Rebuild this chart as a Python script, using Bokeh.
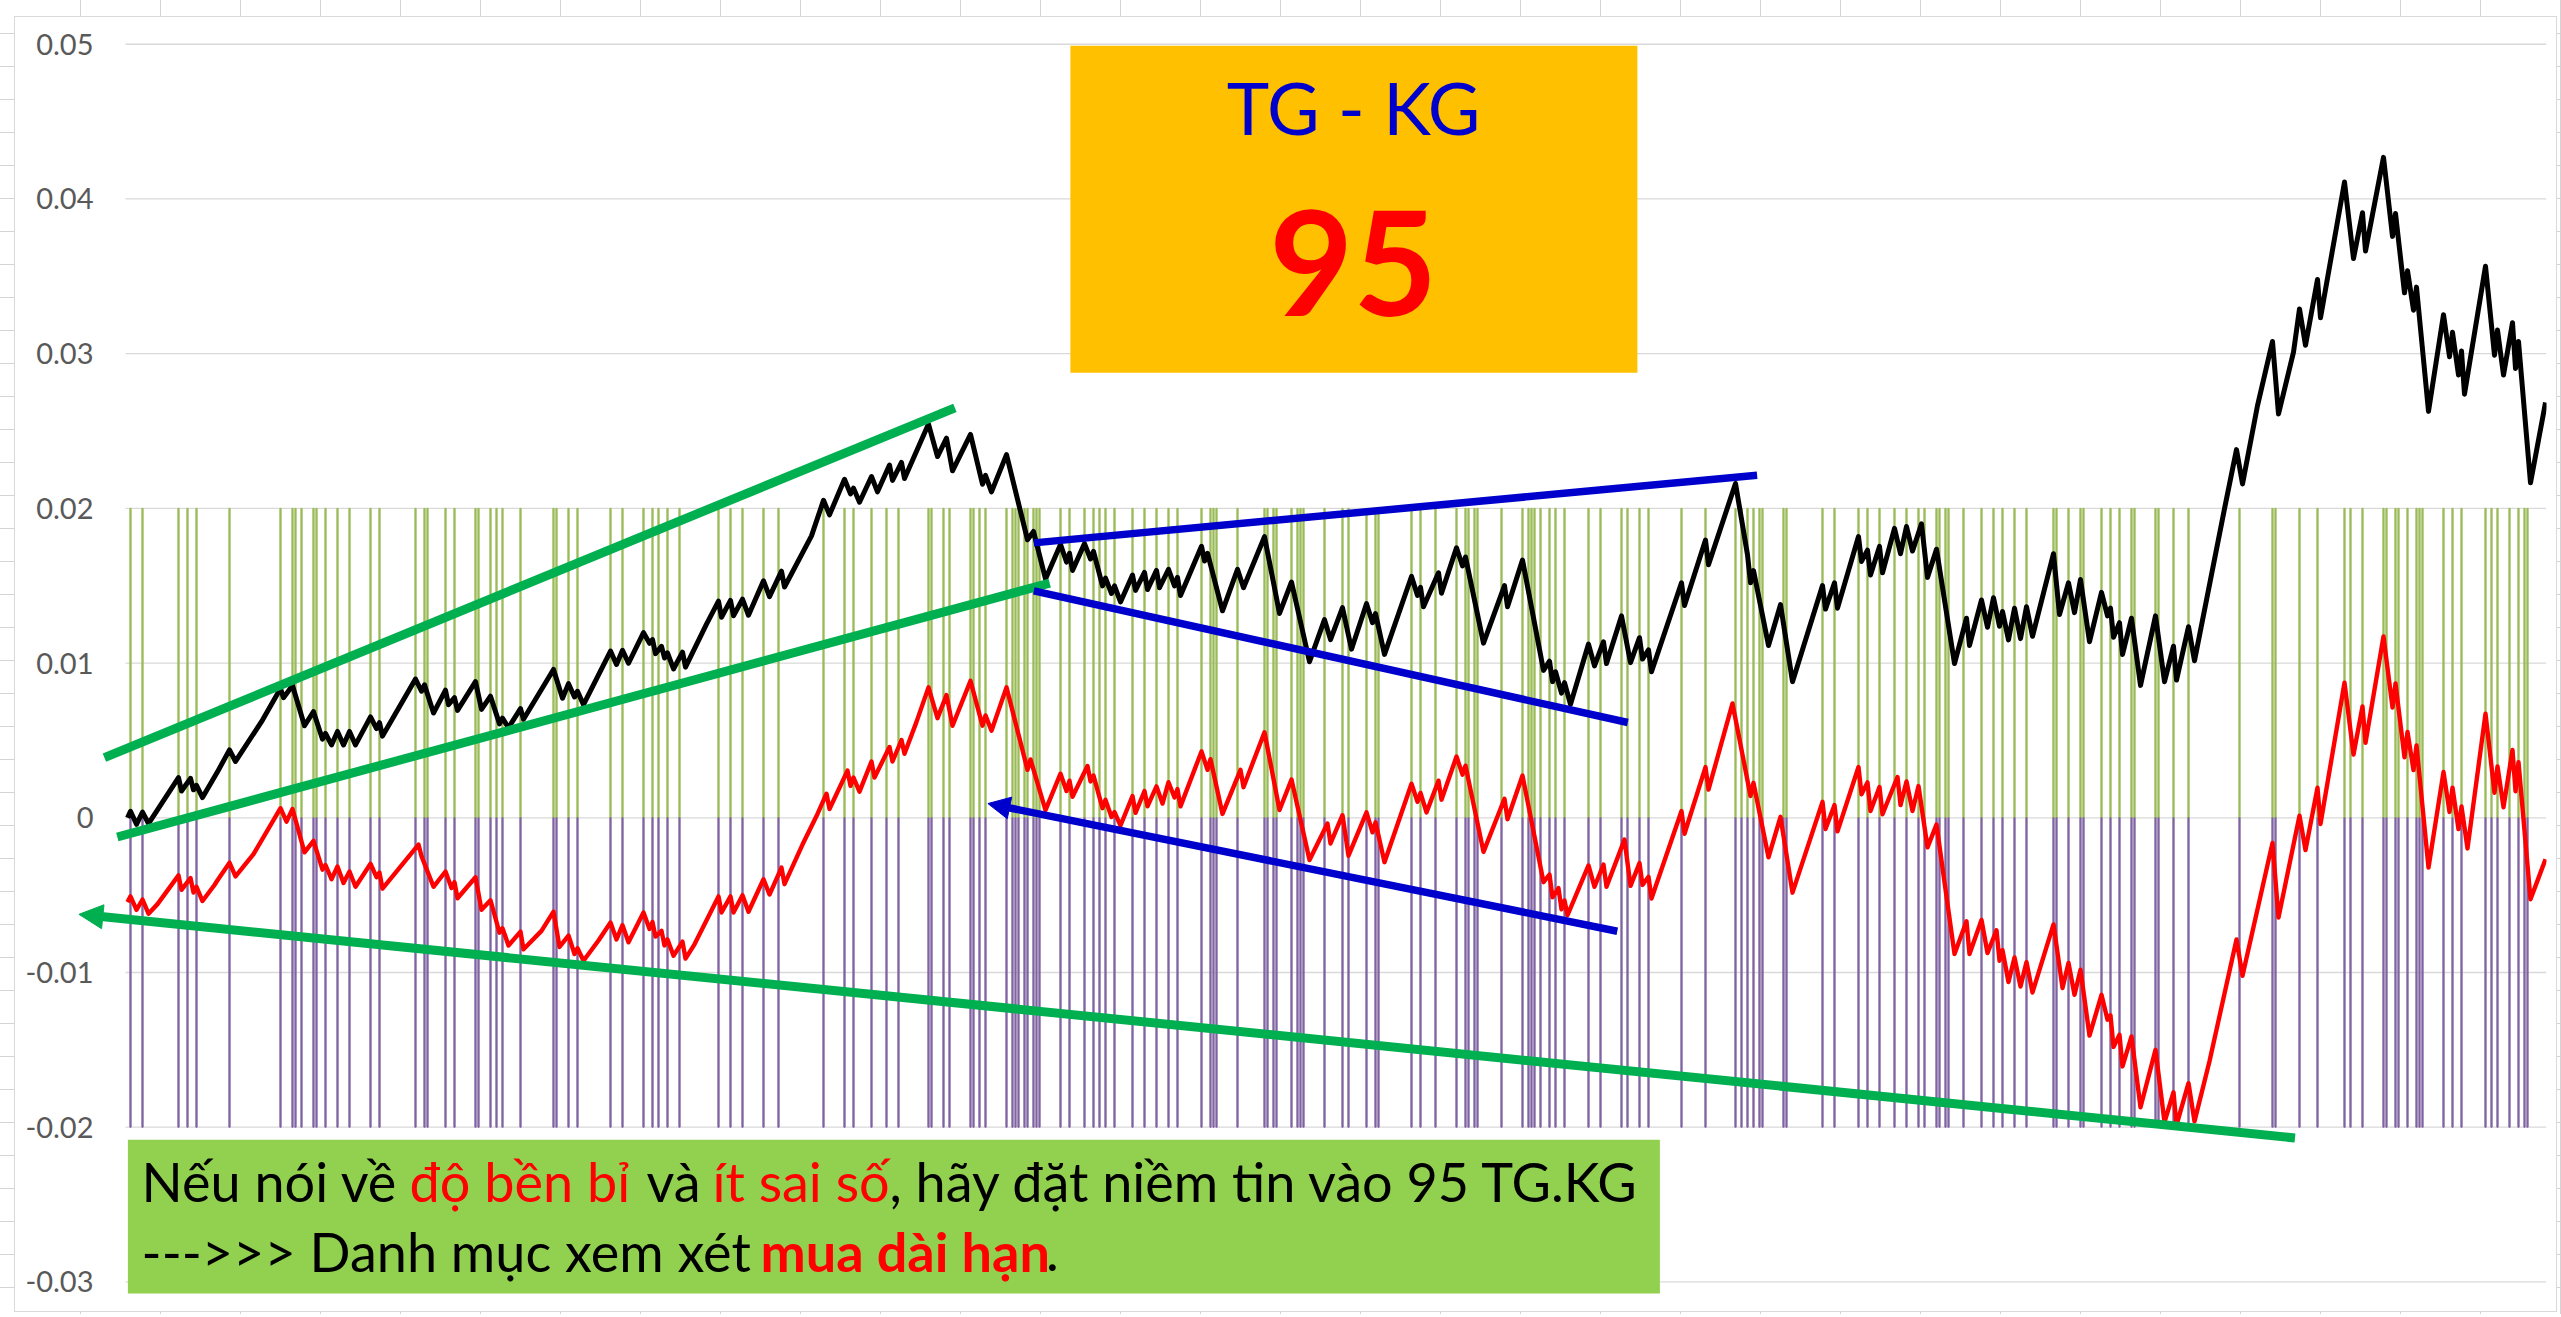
from bokeh.plotting import figure
from bokeh.models import (Range1d, FixedTicker, CustomJSTickFormatter, BoxAnnotation,
                          Label, Arrow, NormalHead)
from bokeh.embed import file_html
from bokeh.resources import INLINE

# ---------------- data (index of session, value) ----------------
black_pts = [(0, 0.0), (1, 0.00042), (3, -0.00042), (5, 0.00037), (7, -0.00037), (17, 0.0026), (18, 0.00173),
    (21, 0.00255), (22, 0.00181), (23, 0.0021), (25, 0.00131), (30, 0.00297), (34, 0.00439), (36, 0.00364),
    (45, 0.00632), (51, 0.00835), (52, 0.00776), (55, 0.00855), (59, 0.00595), (62, 0.00686), (65, 0.00508),
    (66, 0.00545), (68, 0.00471), (70, 0.00558), (72, 0.00471), (74, 0.00558), (76, 0.00471), (81, 0.00652),
    (83, 0.00577), (84, 0.00615), (85, 0.00528), (96, 0.00897), (98, 0.00818), (99, 0.0086), (102, 0.00677),
    (106, 0.00825), (107, 0.00731), (109, 0.00776), (110, 0.00694), (116, 0.0088), (118, 0.00701), (121, 0.00786),
    (124, 0.00607), (125, 0.00644), (127, 0.00582), (131, 0.00706), (132, 0.00637), (142, 0.00959), (145, 0.00773),
    (147, 0.00867), (149, 0.00781), (150, 0.00818), (152, 0.00731), (161, 0.01078), (163, 0.00991), (165, 0.01083),
    (167, 0.00999), (172, 0.01197), (174, 0.01128), (175, 0.01152), (176, 0.01061), (178, 0.01108), (179, 0.01033),
    (180, 0.01066), (182, 0.00962), (185, 0.01071), (186, 0.00974), (193, 0.01252), (197, 0.014), (198, 0.01296),
    (201, 0.01405), (202, 0.01306), (205, 0.01413), (207, 0.01309), (212, 0.01532), (214, 0.0143), (218, 0.01594),
    (219, 0.01492), (228, 0.01822), (232, 0.02052), (234, 0.01958), (239, 0.02188), (241, 0.02094), (242, 0.02131),
    (244, 0.0204), (248, 0.02206), (250, 0.02107), (254, 0.0228), (255, 0.02181), (258, 0.02297), (259, 0.02193),
    (267, 0.02545), (270, 0.02335), (273, 0.02454), (275, 0.02243), (281, 0.02478), (285, 0.02156), (286, 0.02213),
    (288, 0.02107), (293, 0.02347), (300, 0.01797), (302, 0.01851), (306, 0.01544), (311, 0.01767), (313, 0.01653),
    (314, 0.0171), (315, 0.01599), (319, 0.01772), (321, 0.01673), (322, 0.01722), (325, 0.01499), (326, 0.01549),
    (328, 0.0145), (329, 0.01499), (331, 0.01395), (335, 0.01569), (336, 0.0147), (339, 0.01586), (340, 0.01475),
    (343, 0.01599), (344, 0.01487), (347, 0.01606), (349, 0.01499), (350, 0.01554), (351, 0.01437), (358, 0.01755),
    (359, 0.0166), (360, 0.0171), (365, 0.01338), (370, 0.01606), (372, 0.01487), (379, 0.01817), (384, 0.01321),
    (388, 0.01524), (394, 0.01009), (399, 0.01281), (401, 0.01152), (405, 0.01358), (408, 0.0109), (413, 0.01384),
    (415, 0.01261), (416, 0.0132), (419, 0.01056), (428, 0.0156), (430, 0.01437), (431, 0.0149), (432, 0.01364),
    (437, 0.01584), (438, 0.01452), (443, 0.01745), (445, 0.01628), (446, 0.01686), (452, 0.01129), (459, 0.01501),
    (460, 0.01364), (465, 0.01666), (472, 0.00953), (474, 0.01012), (475, 0.0088), (476, 0.00944), (478, 0.00806),
    (479, 0.00874), (481, 0.00733), (487, 0.01123), (489, 0.00982), (492, 0.01138), (493, 0.00997), (498, 0.01305),
    (501, 0.01003), (504, 0.01164), (505, 0.01026), (507, 0.01085), (508, 0.00944), (518, 0.01519), (519, 0.01372),
    (526, 0.01795), (527, 0.01636), (536, 0.02161), (540, 0.017), (541, 0.01519), (542, 0.01598), (547, 0.01114),
    (551, 0.01378), (555, 0.0088), (565, 0.01501), (566, 0.01349), (569, 0.01519), (570, 0.01355), (577, 0.01818),
    (578, 0.01657), (580, 0.0173), (581, 0.01569), (584, 0.01754), (585, 0.01584), (589, 0.01871), (591, 0.01707),
    (593, 0.01883), (595, 0.01724), (598, 0.019), (600, 0.01554), (603, 0.01736), (609, 0.00997), (613, 0.0129),
    (614, 0.01114), (618, 0.01408), (620, 0.01232), (622, 0.01422), (624, 0.01238), (625, 0.01334), (627, 0.0115),
    (629, 0.01355), (631, 0.01158), (633, 0.01364), (635, 0.01173), (642, 0.01707), (644, 0.01314), (647, 0.01519),
    (649, 0.01326), (651, 0.0154), (654, 0.01138), (658, 0.01457), (660, 0.01305), (661, 0.01355), (662, 0.01167),
    (664, 0.01261), (665, 0.01056), (668, 0.0129), (671, 0.00856), (676, 0.01305), (679, 0.0088), (682, 0.01109),
    (683, 0.0089), (687, 0.01235), (689, 0.01015), (699, 0.01998), (703, 0.0238), (705, 0.02158), (710, 0.02664),
    (715, 0.03079), (717, 0.0261), (722, 0.0301), (724, 0.03289), (726, 0.03054), (730, 0.03479), (731, 0.03232),
    (739, 0.04109), (742, 0.03615), (745, 0.03911), (746, 0.03664), (752, 0.04269), (755, 0.03758), (756, 0.03906),
    (759, 0.03393), (760, 0.03536), (762, 0.03281), (763, 0.0343), (767, 0.02627), (772, 0.03252), (774, 0.0298),
    (775, 0.03138), (777, 0.02862), (778, 0.03017), (779, 0.02738), (786, 0.03565), (789, 0.0299), (790, 0.03153),
    (792, 0.02862), (795, 0.032), (796, 0.02904), (797, 0.03079), (801, 0.02165), (806, 0.02684)]

red_pts = [(0, -0.00545), (1, -0.00508), (3, -0.00595), (5, -0.00528), (7, -0.0062), (10, -0.00558), (17, -0.00372),
    (18, -0.00466), (21, -0.00389), (22, -0.00483), (23, -0.00446), (25, -0.00538), (29, -0.00434), (30, -0.00404),
    (34, -0.0029), (36, -0.00379), (42, -0.00235), (51, 0.00062), (53, -0.00025), (55, 0.00057), (59, -0.00223),
    (62, -0.00149), (65, -0.00335), (66, -0.00305), (68, -0.00397), (70, -0.00315), (72, -0.00421), (74, -0.00347),
    (76, -0.00446), (81, -0.00297), (83, -0.00384), (84, -0.00354), (85, -0.00458), (97, -0.00173), (98, -0.00248),
    (102, -0.00446), (106, -0.00347), (108, -0.00454), (109, -0.00416), (110, -0.0052), (116, -0.00384),
    (118, -0.00595), (121, -0.00533), (124, -0.00743), (125, -0.00714), (127, -0.00825), (131, -0.00736),
    (132, -0.0085), (138, -0.00731), (142, -0.00607), (144, -0.00835), (147, -0.00761), (149, -0.0088),
    (150, -0.00843), (152, -0.00924), (157, -0.00793), (161, -0.00677), (163, -0.00786), (165, -0.00694),
    (167, -0.00805), (172, -0.00612), (174, -0.00719), (175, -0.00674), (176, -0.00768), (178, -0.00731),
    (179, -0.00825), (180, -0.00786), (182, -0.00892), (185, -0.008), (186, -0.0091), (189, -0.00818),
    (197, -0.00508), (198, -0.00612), (201, -0.00508), (202, -0.00612), (205, -0.00501), (207, -0.00607),
    (212, -0.00397), (214, -0.00496), (218, -0.00322), (219, -0.00429), (225, -0.00173), (230, 0.00025),
    (233, 0.00156), (234, 0.00057), (240, 0.00305), (241, 0.00206), (242, 0.0026), (244, 0.00169), (248, 0.00364),
    (249, 0.0026), (254, 0.00458), (255, 0.00364), (258, 0.00503), (259, 0.00414), (263, 0.0062), (267, 0.00843),
    (270, 0.00644), (273, 0.00793), (275, 0.00595), (281, 0.00885), (285, 0.00595), (286, 0.00662), (288, 0.00563),
    (293, 0.00843), (300, 0.0031), (301, 0.00377), (306, 0.0005), (311, 0.00285), (313, 0.00173), (314, 0.0024),
    (315, 0.00136), (320, 0.00335), (321, 0.00235), (322, 0.00273), (325, 0.00062), (326, 0.00116), (328, 0.00005),
    (329, 0.00037), (331, -0.0005), (335, 0.00141), (336, 0.00032), (339, 0.00173), (340, 0.00074), (343, 0.00203),
    (345, 0.00092), (347, 0.0023), (349, 0.00131), (350, 0.00186), (351, 0.00074), (358, 0.00429), (360, 0.0031),
    (361, 0.00379), (365, 0.00025), (371, 0.0031), (372, 0.00198), (379, 0.00553), (384, 0.0005), (388, 0.00248),
    (394, -0.00273), (400, -0.00037), (401, -0.00166), (405, 0.00017), (407, -0.00245), (413, 0.00035),
    (415, -0.00094), (416, -0.00029), (419, -0.00287), (428, 0.0022), (430, 0.00103), (431, 0.00161),
    (433, 0.00035), (437, 0.0024), (438, 0.00117), (443, 0.00396), (445, 0.00279), (446, 0.00337), (452, -0.0022),
    (459, 0.00123), (460, -0.00009), (465, 0.00273), (472, -0.00416), (474, -0.00367), (475, -0.00513),
    (477, -0.00455), (478, -0.00592), (479, -0.00534), (480, -0.0063), (487, -0.00308), (489, -0.00446),
    (492, -0.00302), (493, -0.00446), (499, -0.00141), (501, -0.0044), (504, -0.00293), (505, -0.00434),
    (507, -0.00381), (508, -0.00522), (518, 0.00044), (519, -0.00103), (526, 0.00328), (527, 0.00182),
    (535, 0.00739), (541, 0.00141), (542, 0.00226), (547, -0.00255), (551, 0.00006), (555, -0.00484),
    (565, 0.00103), (566, -0.00073), (569, 0.00082), (570, -0.00088), (577, 0.00328), (578, 0.00152),
    (580, 0.00229), (581, 0.00044), (584, 0.00199), (585, 0.00023), (590, 0.00264), (591, 0.00082), (593, 0.00235),
    (595, 0.00044), (597, 0.00205), (600, -0.00191), (603, -0.00044), (609, -0.0088), (613, -0.00669),
    (614, -0.0088), (618, -0.0066), (620, -0.00874), (623, -0.00727), (624, -0.00924), (625, -0.00856),
    (627, -0.01062), (629, -0.00903), (631, -0.01091), (633, -0.00933), (635, -0.01129), (642, -0.00689),
    (645, -0.011), (647, -0.00938), (649, -0.01144), (651, -0.00982), (654, -0.01408), (658, -0.01144),
    (660, -0.01305), (661, -0.01276), (662, -0.01481), (664, -0.01402), (665, -0.01607), (668, -0.01413),
    (671, -0.01871), (676, -0.015), (679, -0.01967), (682, -0.01774), (683, -0.01987), (687, -0.01715),
    (689, -0.01962), (694, -0.01574), (703, -0.00786), (705, -0.01021), (715, -0.00162), (717, -0.00645),
    (724, 0.00014), (726, -0.00209), (730, 0.00195), (731, -0.0004), (739, 0.00873), (742, 0.00409), (745, 0.0072),
    (746, 0.00485), (752, 0.01172), (755, 0.00713), (756, 0.00868), (759, 0.00391), (760, 0.00555), (762, 0.00308),
    (763, 0.00468), (767, -0.00322), (772, 0.00296), (774, 0.00038), (775, 0.00195), (777, -0.00073),
    (778, 0.00073), (780, -0.00198), (786, 0.00673), (789, 0.00162), (790, 0.00332), (792, 0.00068),
    (795, 0.00438), (796, 0.00172), (797, 0.0036), (801, -0.00527), (806, -0.00268)]

signal_idx = [1, 5, 17, 20, 23, 34, 51, 55, 56, 58, 62, 63, 66, 70, 74, 81, 84, 96, 99, 100, 106, 109, 116, 117,
    121, 123, 125, 131, 142, 143, 147, 150, 161, 165, 172, 175, 177, 180, 184, 197, 201, 205, 212, 217, 232, 239,
    242, 248, 253, 257, 267, 268, 272, 274, 281, 282, 284, 286, 293, 295, 296, 297, 299, 300, 302, 303, 304, 311,
    314, 319, 322, 324, 326, 329, 335, 339, 343, 347, 350, 358, 361, 362, 363, 370, 379, 380, 382, 383, 388, 390,
    391, 392, 399, 405, 407, 413, 416, 417, 428, 431, 436, 443, 446, 447, 449, 450, 458, 465, 467, 468, 469, 471,
    474, 476, 479, 487, 491, 498, 500, 504, 507, 518, 526, 536, 538, 540, 542, 544, 545, 552, 553, 565, 569, 577,
    580, 584, 589, 593, 597, 599, 603, 604, 606, 607, 612, 618, 622, 625, 629, 633, 642, 643, 647, 651, 652, 658,
    661, 664, 668, 669, 676, 677, 682, 687, 704, 715, 716, 724, 730, 739, 741, 745, 752, 753, 756, 757, 760, 763,
    764, 765, 772, 775, 778, 786, 788, 790, 794, 797, 799, 800]
signal_up = 0.02
signal_down = -0.02

y_ticks = [-0.03, -0.02, -0.01, 0, 0.01, 0.02, 0.03, 0.04, 0.05]
plot_first, plot_last = -0.667, 806.333   # extent of the Excel plot area (in session index units)

# drawn trend lines: (x_start, y_start, x_end, y_end)
green_lines = [(-7.7, 0.00389, 275.8, 0.0265), (-3.4, -0.00124, 307.4, 0.01517)]
green_arrow = (722.5, -0.0207, -16.2, -0.00624)
blue_lines = [(302.1, 0.01777, 543.2, 0.02214), (302.1, 0.01467, 500.1, 0.00616)]
blue_arrow = (496.6, -0.00733, 286.8, 0.00092)

FONT = "Lato"
black_idx = [p[0] for p in black_pts]
black_val = [p[1] for p in black_pts]
red_idx = [p[0] for p in red_pts]
red_val = [p[1] for p in red_pts]

excel_bg = {
    "background-color": "#ffffff",
    "background-image": ("linear-gradient(#ffffff,#ffffff), linear-gradient(#D9D9D9,#D9D9D9), "
                         "repeating-linear-gradient(to right, #D4D4D4 0px, #D4D4D4 1px, transparent 1px, transparent 80px), "
                         "repeating-linear-gradient(to bottom, #D4D4D4 0px, #D4D4D4 1px, transparent 1px, transparent 33px)"),
    "background-position": "15px 17px, 14px 16px, 80px 0px, 0px 33px",
    "background-size": "2541px 1294px, 2543px 1296px, 100% 100%, 100% 100%",
    "background-repeat": "no-repeat",
}

p = figure(width=2561, height=1314, x_range=Range1d(-20.333, 806.333), y_range=Range1d(-0.0312, 0.0505),
           output_backend="svg", toolbar_location=None, styles=excel_bg,
           min_border_left=66, min_border_right=15, min_border_top=36, min_border_bottom=14)
p.border_fill_color = None
p.background_fill_color = None
p.outline_line_color = None
p.xaxis.visible = False
p.xgrid.visible = False
p.ygrid.visible = False
p.yaxis.ticker = FixedTicker(ticks=y_ticks)
p.yaxis.formatter = CustomJSTickFormatter(code="return Math.abs(tick) < 1e-9 ? '0' : tick.toFixed(2);")
p.yaxis.axis_line_color = None
p.yaxis.major_tick_line_color = None
p.yaxis.minor_tick_line_color = None
p.yaxis.major_tick_out = 0
p.yaxis.major_tick_in = 0
p.yaxis.major_label_standoff = -27
p.yaxis.major_label_text_font = FONT
p.yaxis.major_label_text_font_size = "29px"
p.yaxis.major_label_text_color = "#595959"

# horizontal gridlines of the Excel plot area
p.segment(x0=[plot_first] * len(y_ticks), x1=[plot_last] * len(y_ticks), y0=y_ticks, y1=y_ticks,
          line_color="#D9D9D9", line_width=1.3)

p.vbar(x=signal_idx, bottom=0, top=signal_up, width=0.42, color="#9BBB59")
p.vbar(x=signal_idx, bottom=signal_down, top=0, width=0.42, color="#8064A2")

p.line(black_idx, black_val, line_color="black", line_width=5, line_join="round")
p.line(red_idx, red_val, line_color="#FF0000", line_width=4.4, line_join="round")

for (x0, y0, x1, y1) in green_lines:
    p.add_layout(Arrow(end=None, x_start=x0, y_start=y0, x_end=x1, y_end=y1,
                       line_color="#00B050", line_width=9))
for (x0, y0, x1, y1) in blue_lines:
    p.add_layout(Arrow(end=None, x_start=x0, y_start=y0, x_end=x1, y_end=y1,
                       line_color="#0000CC", line_width=7.5))
x0, y0, x1, y1 = green_arrow
p.add_layout(Arrow(end=NormalHead(size=24, fill_color="#00B050", line_color="#00B050"),
                   x_start=x0, y_start=y0, x_end=x1, y_end=y1, line_color="#00B050", line_width=9))
x0, y0, x1, y1 = blue_arrow
p.add_layout(Arrow(end=NormalHead(size=22, fill_color="#0000CC", line_color="#0000CC"),
                   x_start=x0, y_start=y0, x_end=x1, y_end=y1, line_color="#0000CC", line_width=7.5))

# yellow title box
p.add_layout(BoxAnnotation(left=314.3, right=503.3, top=0.0499, bottom=0.02877,
                           fill_color="#FFC000", fill_alpha=1, line_alpha=0))
p.add_layout(Label(x=408.7, y=0.04592, text="TG - KG", text_align="center", text_baseline="alphabetic",
                   text_font=FONT, text_font_size="72px", text_color="#0000CC"))
p.add_layout(Label(x=408.6, y=0.03584, text="95", text_align="center", text_baseline="alphabetic",
                   text_font=FONT, text_font_size="145px", text_font_style="bold", text_color="#FF0000"))

# green comment box
p.add_layout(BoxAnnotation(left=0.13, right=510.8, top=-0.02081, bottom=-0.03074,
                           fill_color="#92D050", fill_alpha=1, line_alpha=0))
line1_y, line2_y = -0.02348, -0.02801
segs = [
    (4.7, line1_y, "Nếu nói về", "black", "normal"),
    (94, line1_y, "độ bền bỉ", "#FF0000", "normal"),
    (173, line1_y, "và", "black", "normal"),
    (195, line1_y, "ít sai số", "#FF0000", "normal"),
    (254, line1_y, ", hãy đặt niềm tin vào 95 TG.KG", "black", "normal"),
    (4.7, line2_y, "--->>> Danh mục xem xét", "black", "normal"),
    (211, line2_y, "mua dài hạn", "#FF0000", "bold"),
    (306.2, line2_y, ".", "black", "normal"),
]
for (sx, sy, txt, col, sty) in segs:
    p.add_layout(Label(x=sx, y=sy, text=txt, text_align="left", text_baseline="alphabetic",
                       text_font=FONT, text_font_size="54px", text_color=col, text_font_style=sty))

open("out.html", "w").write(file_html(p, INLINE))
